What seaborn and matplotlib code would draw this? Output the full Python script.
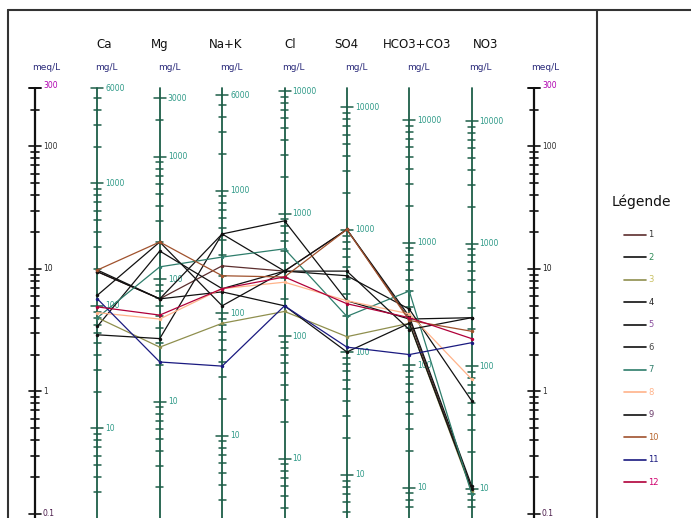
import numpy as np
import pandas as pd
import matplotlib
matplotlib.use("Agg")
import matplotlib.pyplot as plt
from matplotlib.lines import Line2D
import seaborn as sns

# ---------------- data (meq/L) ----------------
ions = ["Ca", "Mg", "Na+K", "Cl", "SO4", "HCO3+CO3", "NO3"]
eq_weights = [20.04, 12.15, 23.0, 35.45, 48.03, 61.02, 62.0]
samples = [str(i) for i in range(1, 13)]

s1 = [9.5, 5.7, 10.6, 9.6, 21.0, 3.9, 0.16]
s2 = [3.4, 14.0, 6.9, 9.6, 21.0, 4.1, 0.17]
s3 = [4.0, 2.3, 3.6, 4.5, 2.8, 3.6, 0.155]
s4 = [9.5, 5.7, 19.3, 24.7, 5.5, 3.9, 4.0]
s5 = [2.9, 2.7, 19.3, 9.6, 8.8, 4.7, 0.84]
s6 = [9.8, 5.7, 6.5, 5.0, 2.1, 3.6, 0.16]
s7 = [4.0, 10.4, 12.5, 14.6, 4.1, 6.6, 0.146]
s8 = [4.4, 3.9, 6.9, 7.8, 5.5, 4.3, 1.26]
s9 = [6.1, 16.6, 5.0, 9.6, 9.6, 3.2, 4.0]
s10 = [9.8, 16.6, 8.8, 8.6, 21.0, 3.8, 3.1]
s11 = [5.7, 1.74, 1.61, 5.0, 2.3, 2.0, 2.5]
s12 = [4.9, 4.2, 6.9, 8.6, 5.2, 4.0, 2.7]
series = [s1, s2, s3, s4, s5, s6, s7, s8, s9, s10, s11, s12]

line_colors = ["#5c2e2e", "#111111", "#8f8f4e", "#111111", "#111111", "#111111",
               "#2e7d6b", "#ffb38a", "#111111", "#a0522d", "#1a1a80", "#b0003a"]
label_colors = ["#333333", "#2e8b57", "#c8c060", "#222222", "#8a4f9e", "#444444",
                "#2e7d6b", "#ffb38a", "#6a3a6a", "#b8662e", "#1a1a80", "#d0006f"]

rows = []
for name, vals in zip(samples, series):
    for j, v in enumerate(vals):
        rows.append({"sample": name, "pos": j + 1, "meq": v})
df = pd.DataFrame(rows)

# ---------------- layout ----------------
W, H = 691, 518
sns.set_theme(style="white")
plt.rcParams["font.family"] = ["DejaVu Sans"]
fig = plt.figure(figsize=(W / 100, H / 100), dpi=100)

PX_DEC = 122.5          # pixels per decade
X0, XSTEP = 35, 62.375  # pixel x of left meq axis, spacing
Y300 = 88               # pixel y of 300 meq

ax_left, ax_right, ax_top, ax_bot = 8, 597, 10, 518
ax = fig.add_axes([ax_left / W, 1 - ax_bot / H, (ax_right - ax_left) / W, (ax_bot - ax_top) / H])
log_top = np.log10(300) + (Y300 - ax_top) / PX_DEC
log_bot = np.log10(300) - (ax_bot - Y300) / PX_DEC


def yv(ypx):
    return 10 ** (np.log10(300) + (Y300 - ypx) / PX_DEC)


def dx(px):
    return px / XSTEP


axis_green = "#1d5e48"
lab_teal = "#2f9a88"

# ion axes with mg/L ticks
for i, w in enumerate(eq_weights, start=1):
    ax.plot([i, i], [300, 0.05], color=axis_green, lw=1.3, zorder=1)
    vals = []
    for k in range(0, 5):
        for m in range(1, 10):
            mg = m * 10 ** k
            meq = mg / w
            if 0.1 <= meq <= 300:
                vals.append((mg, meq, m))
    top_mg = max(v[0] for v in vals)
    for mg, meq, m in vals:
        hw = dx(6) if m == 1 or mg == top_mg else dx(3.5)
        ax.plot([i - hw, i + hw], [meq, meq], color=axis_green, lw=1.1, zorder=1)
        if (m == 1 and mg >= 10) or mg == top_mg:
            ax.text(i + dx(8), meq, f"{mg}", fontsize=5.5, color=lab_teal,
                    va="center", ha="left")

# meq/L axes
for pos in (0, 8):
    ax.plot([pos, pos], [300, 0.05], color="#111111", lw=1.6, zorder=1)
    for k in range(-1, 3):
        for m in range(1, 10):
            v = m * 10 ** k
            if v > 300:
                continue
            hw = dx(6) if m == 1 else dx(4)
            ax.plot([pos - hw, pos + hw], [v, v], color="#111111", lw=1.2, zorder=1)
    ax.plot([pos - dx(6), pos + dx(6)], [300, 300], color="#111111", lw=1.4, zorder=1)
    for v, lab, c in [(300, "300", "#b000b0"), (100, "100", "#333333"),
                      (10, "10", "#222222"), (1, "1", "#333333"), (0.1, "0.1", "#4a1a4a")]:
        yy = v * 1.05 if v == 300 else v
        ax.text(pos + dx(8), yy, lab, fontsize=5.5, color=c, va="center", ha="left")

# headers
name_off = [7, 0, 4, 6, -1, 8, 14]
for i, (ion, off) in enumerate(zip(ions, name_off), start=1):
    ax.text(i + dx(off), yv(44), ion, fontsize=8.5, ha="center", va="center", color="#111111")
    ax.text(i - dx(2), yv(68), "mg/L", fontsize=6.5, ha="left", va="center", color="#2a2a7a")
for pos in (0, 8):
    ax.text(pos - dx(3), yv(68), "meq/L", fontsize=6.5, ha="left", va="center", color="#2a2a7a")

# data lines
palette = dict(zip(samples, line_colors))
sns.lineplot(data=df, x="pos", y="meq", hue="sample", palette=palette, sort=False,
             estimator=None, units="sample", lw=0.9, marker="o", markersize=2.5,
             markeredgewidth=0, legend=False, ax=ax, zorder=3)
ax.set_yscale("log")
ax.set_ylim(10 ** log_bot, 10 ** log_top)
ax.set_xlim((ax_left - X0) / XSTEP, (ax_right - X0) / XSTEP)
ax.axis("off")

# frame: top line, left line, divider
frame_c = "#333333"
fig.add_artist(Line2D([ax_left / W, 1.0], [1 - ax_top / H] * 2, transform=fig.transFigure,
                      color=frame_c, lw=1.5))
fig.add_artist(Line2D([ax_left / W] * 2, [0, 1 - ax_top / H], transform=fig.transFigure,
                      color=frame_c, lw=1.5))
fig.add_artist(Line2D([597 / W] * 2, [0, 1 - ax_top / H], transform=fig.transFigure,
                      color=frame_c, lw=1.5))

# legend
fig.text(641 / W, 1 - 202 / H, "Légende", fontsize=10, ha="center", va="center", color="#111111")
handles = [Line2D([], [], color=c, lw=1.2) for c in line_colors]
leg = fig.legend(handles, samples, loc="upper left", bbox_to_anchor=(624 / W, 1 - 230.5 / H),
                 frameon=False, fontsize=6, handlelength=2.64, labelspacing=1.62,
                 handletextpad=0.3, borderpad=0, borderaxespad=0)
for t, c in zip(leg.get_texts(), label_colors):
    t.set_color(c)

fig.savefig("out.png", dpi=100)
